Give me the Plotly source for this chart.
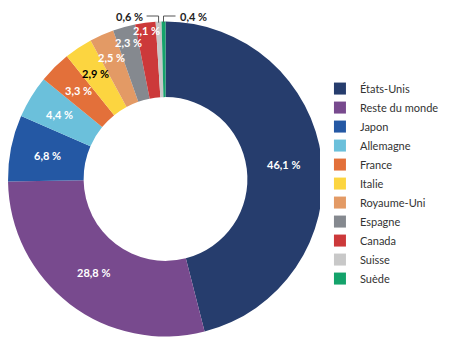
import math
import plotly.graph_objects as go

pays = ["États-Unis", "Reste du monde", "Japon", "Allemagne", "France", "Italie",
        "Royaume-Uni", "Espagne", "Canada", "Suisse", "Suède"]
parts = [46.1, 28.8, 6.8, 4.4, 3.3, 2.9, 2.5, 2.3, 2.1, 0.6, 0.4]
couleurs = ["#263d6d", "#784a8e", "#2458a4", "#6bc0db", "#e3703a", "#fcd540",
            "#e39a65", "#85898f", "#cc393a", "#c8c8c8", "#14a36b"]
etiquettes = [f"{v:.1f} %".replace(".", ",") for v in parts]

# layout / style (not data)
W, H = 450, 351
dom_x = [8, 323]     # px
dom_y = [21, 337]    # px from top
couleurs_texte = ["white"] * 5 + ["black"] + ["white"] * 3
rayons_texte = [119, 118, 120, 124, 124, 127, 133, 142, 150]  # px, label radius

fig = go.Figure(go.Pie(
    labels=pays, values=parts, textinfo="none",
    marker=dict(colors=couleurs, line=dict(width=0)),
    sort=False, direction="clockwise", rotation=0, hole=0.52,
    domain=dict(x=[dom_x[0]/W, dom_x[1]/W], y=[1-dom_y[1]/H, 1-dom_y[0]/H]),
    hoverinfo="label+percent",
))

cx = (dom_x[0] + dom_x[1]) / 2
cy = (dom_y[0] + dom_y[1]) / 2
R = min(dom_x[1] - dom_x[0], dom_y[1] - dom_y[0]) / 2
total = sum(parts)

def px2paper(x, y):
    return x / W, 1 - y / H

cum = 0.0
mids = []
for v in parts:
    mids.append((cum + v / 2) / total * 2 * math.pi)
    cum += v

for i, (lab, a) in enumerate(zip(etiquettes, mids)):
    if i < len(rayons_texte):
        r = rayons_texte[i]
        x = cx + r * math.sin(a)
        y = cy - r * math.cos(a)
        xp, yp = px2paper(x, y)
        fig.add_annotation(x=xp, y=yp, xref="paper", yref="paper", text=lab,
                           showarrow=False, xanchor="center", yanchor="middle",
                           font=dict(family="Lato", size=11, weight="bold",
                                     color=couleurs_texte[i]))

# outside labels with leader lines for the two smallest slices
y_lab = 16
for i, side in [(9, -1), (10, 1)]:
    a = mids[i]
    xe = cx + R * math.sin(a)
    ye = cy - R * math.cos(a)
    xh = xe + side * 12
    p0 = px2paper(xe, ye + 1)
    p1 = px2paper(xe, y_lab)
    p2 = px2paper(xh, y_lab)
    fig.add_shape(type="line", xref="paper", yref="paper", x0=p0[0], y0=p0[1],
                  x1=p1[0], y1=p1[1], line=dict(color="#555555", width=1))
    fig.add_shape(type="line", xref="paper", yref="paper", x0=p1[0], y0=p1[1],
                  x1=p2[0], y1=p2[1], line=dict(color="#555555", width=1))
    tx = px2paper(xh + side * 2, y_lab)
    fig.add_annotation(x=tx[0], y=tx[1], xref="paper", yref="paper",
                       text=etiquettes[i], showarrow=False,
                       xanchor="right" if side < 0 else "left", yanchor="middle",
                       font=dict(family="Lato", size=11, weight="bold", color="#222222"))

fig.update_layout(
    width=W, height=H, margin=dict(l=0, r=0, t=0, b=0),
    paper_bgcolor="white", plot_bgcolor="white",
    font=dict(family="Lato", size=11, color="#333333"),
    legend=dict(x=0.711, y=0.789, xanchor="left", yanchor="top",
                font=dict(size=11, color="#333333"), tracegroupgap=0,
                itemwidth=30),
)
fig.write_html("out.html")
